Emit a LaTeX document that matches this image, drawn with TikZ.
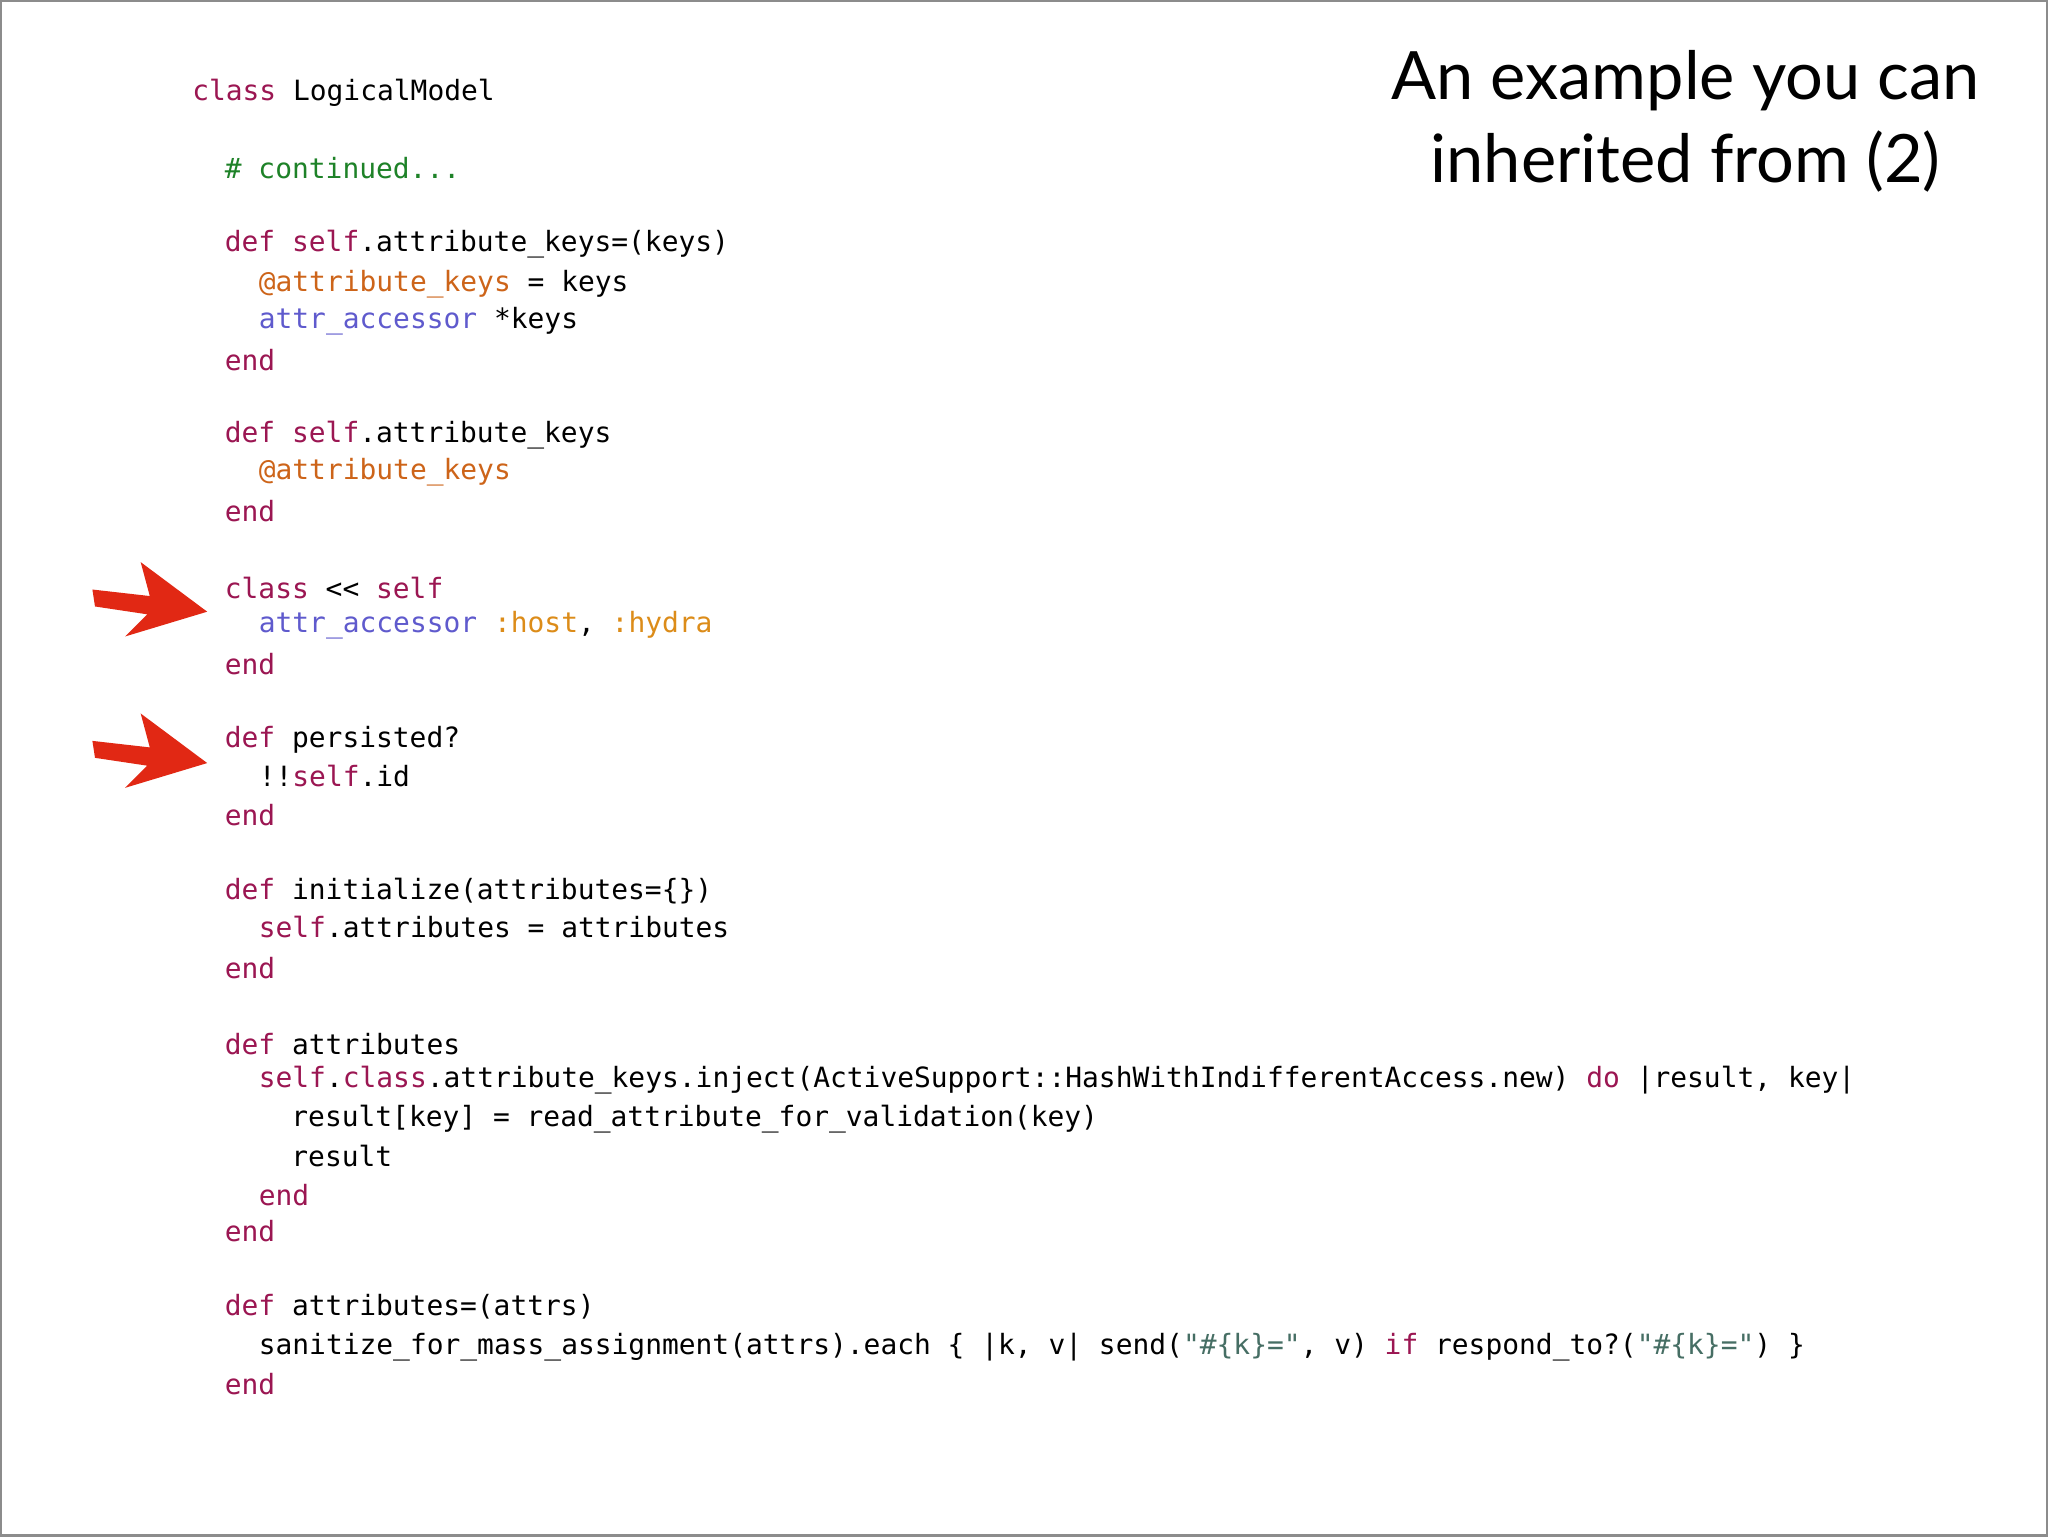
\documentclass[tikz,border=0pt]{standalone}
\usepackage{fontspec}
\setmainfont{Lato}
\setmonofont{DejaVu Sans Mono}
\usetikzlibrary{positioning}
\definecolor{kwcol}{RGB}{155,22,82}
\definecolor{cmcol}{RGB}{30,130,40}
\definecolor{ivcol}{RGB}{205,100,25}
\definecolor{accol}{RGB}{95,90,205}
\definecolor{sycol}{RGB}{220,140,25}
\definecolor{stcol}{RGB}{70,110,100}
\definecolor{arcol}{RGB}{225,40,20}
\newcommand{\kw}[1]{\textcolor{kwcol}{#1}}
\newcommand{\cm}[1]{\textcolor{cmcol}{#1}}
\newcommand{\iv}[1]{\textcolor{ivcol}{#1}}
\newcommand{\ac}[1]{\textcolor{accol}{#1}}
\newcommand{\sy}[1]{\textcolor{sycol}{#1}}
\newcommand{\st}[1]{\textcolor{stcol}{#1}}

\begin{document}
\begin{tikzpicture}[x=0.013061cm, y=-0.013061cm,
    code/.style={anchor=west,inner sep=0pt,font=\ttfamily\fontsize{7.95}{9}\selectfont},
    pointer/.style={fill=arcol,draw=none},
   ]
    \draw[black!45, line width=0.6pt, fill=white] (0,0) rectangle (1568,1176);
    \useasboundingbox (0,0) rectangle (1568,1176);

    \node (title) [align=center,font=\fontsize{19}{23.5}\selectfont] at (1291,92) {An example you can\\inherited from (2)};

    \node (l1)  [code] at (146,70)   {\kw{class} LogicalModel};
    \node (l2)  [code] at (171,128)  {\cm{\# continued...}};
    \node (l3)  [code] at (171,186)  {\kw{def} \kw{self}.attribute\_keys=(keys)};
    \node (l4)  [code] at (197,217)  {\iv{@attribute\_keys} = keys};
    \node (l5)  [code] at (197,245)  {\ac{attr\_accessor} *keys};
    \node (l6)  [code] at (171,275)  {\kw{end}};
    \node (l7)  [code] at (171,333)  {\kw{def} \kw{self}.attribute\_keys};
    \node (l8)  [code] at (197,361)  {\iv{@attribute\_keys}};
    \node (l9)  [code] at (171,391)  {\kw{end}};
    \node (l10) [code] at (171,450)  {\kw{class} << \kw{self}};
    \node (l11) [code] at (197,478)  {\ac{attr\_accessor} \sy{:host}, \sy{:hydra}};
    \node (l12) [code] at (171,508)  {\kw{end}};
    \node (l13) [code] at (171,566)  {\kw{def} persisted?};
    \node (l14) [code] at (197,594)  {!!\kw{self}.id};
    \node (l15) [code] at (171,624)  {\kw{end}};
    \node (l16) [code] at (171,682)  {\kw{def} initialize(attributes=\{\})};
    \node (l17) [code] at (197,710)  {\kw{self}.attributes = attributes};
    \node (l18) [code] at (171,741)  {\kw{end}};
    \node (l19) [code] at (171,799)  {\kw{def} attributes};
    \node (l20) [code] at (197,827)  {\kw{self}.\kw{class}.attribute\_keys.inject(ActiveSupport::HashWithIndifferentAccess.new) \kw{do} |result, key|};
    \node (l21) [code] at (222,857)  {result[key] = read\_attribute\_for\_validation(key)};
    \node (l22) [code] at (222,885)  {result};
    \node (l23) [code] at (197,915)  {\kw{end}};
    \node (l24) [code] at (171,943)  {\kw{end}};
    \node (l25) [code] at (171,1001) {\kw{def} attributes=(attrs)};
    \node (l26) [code] at (197,1032) {sanitize\_for\_mass\_assignment(attrs).each \{ |k, v| send(\st{"\#\{k\}="}, v) \kw{if} respond\_to?(\st{"\#\{k\}="}) \}};
    \node (l27) [code] at (171,1060) {\kw{end}};

    % red pointers
    \foreach \dy in {0,116}{
      \fill[pointer,yshift=-\dy*0.013061cm] (70,451) -- (114,456) -- (107,430) -- (158,468)
            -- (95,487) -- (112,470) -- (72,464) -- cycle;
    }
\end{tikzpicture}
\end{document}
